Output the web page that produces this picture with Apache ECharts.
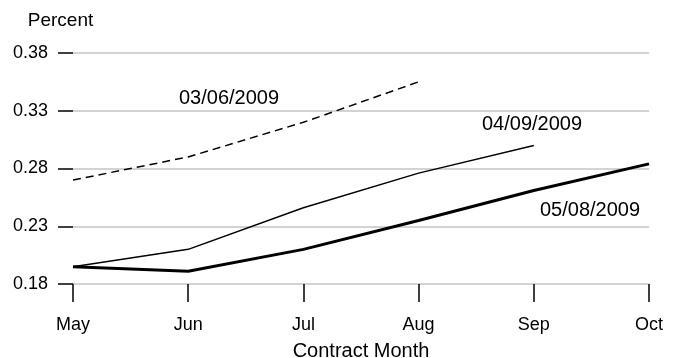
<!DOCTYPE html>
<html>
<head>
<meta charset="utf-8">
<script src="https://cdn.jsdelivr.net/npm/echarts@6/dist/echarts.min.js"></script>
<style>
  html, body { margin: 0; padding: 0; background: #fff; }
  #chart { width: 681px; height: 358px; }
</style>
</head>
<body>
<div id="chart"></div>
<script>
  const months = ['May', 'Jun', 'Jul', 'Aug', 'Sep', 'Oct'];

  // futures curves on three dates
  const mar06 = [0.270, 0.290, 0.320, 0.355, null, null];
  const apr09 = [0.195, 0.210, 0.246, 0.276, 0.300, null];
  const may08 = [0.195, 0.191, 0.210, 0.235, 0.261, 0.284];

  const font = 'Liberation Sans, Arial, Helvetica, sans-serif';
  const fs = 18;

  const chart = echarts.init(document.getElementById('chart'));

  chart.setOption({
    animation: false,
    grid: {left: 73, right: 32, top: 53, bottom: 74, containLabel: false, outerBoundsMode: 'none'},

    xAxis: {
      type: 'category',
      data: months,
      boundaryGap: false,
      axisLine: {show: false},
      axisTick: {length: 18, lineStyle: {color: '#000', width: 1.5}},
      axisLabel: {margin: 32, color: '#000', fontSize: fs, fontFamily: font},
      name: 'Contract Month',
      nameLocation: 'middle',
      nameGap: 57,
      nameTextStyle: {color: '#000', fontSize: 20, fontFamily: font}
    },

    yAxis: {
      type: 'value',
      min: 0.18,
      max: 0.38,
      interval: 0.05,
      axisLine: {show: false},
      axisTick: {show: true, length: 15, lineStyle: {color: '#000', width: 1.5}},
      axisLabel: {
        margin: 25, color: '#000', fontSize: fs, fontFamily: font,
        formatter: v => v.toFixed(2)
      },
      splitLine: {lineStyle: {color: '#c4c4c4', width: 1.5}}
    },

    graphic: [
      {type: 'text', x: 60.5, y: 21, style: {text: 'Percent', fill: '#000', font: '19px ' + font, align: 'center', verticalAlign: 'middle'}},
      {type: 'text', x: 229, y: 98, style: {text: '03/06/2009', fill: '#000', font: '20px ' + font, align: 'center', verticalAlign: 'middle'}},
      {type: 'text', x: 532, y: 124, style: {text: '04/09/2009', fill: '#000', font: '20px ' + font, align: 'center', verticalAlign: 'middle'}},
      {type: 'text', x: 590, y: 210, style: {text: '05/08/2009', fill: '#000', font: '20px ' + font, align: 'center', verticalAlign: 'middle'}}
    ],

    series: [{
      name: '03/06/2009',
      type: 'line',
      data: mar06,
      symbol: 'none',
      lineStyle: {color: '#000', width: 1.5, type: [8, 5]}
    }, {
      name: '04/09/2009',
      type: 'line',
      data: apr09,
      symbol: 'none',
      lineStyle: {color: '#000', width: 1.5}
    }, {
      name: '05/08/2009',
      type: 'line',
      data: may08,
      symbol: 'none',
      lineStyle: {color: '#000', width: 3}
    }]
  });
</script>
</body>
</html>
